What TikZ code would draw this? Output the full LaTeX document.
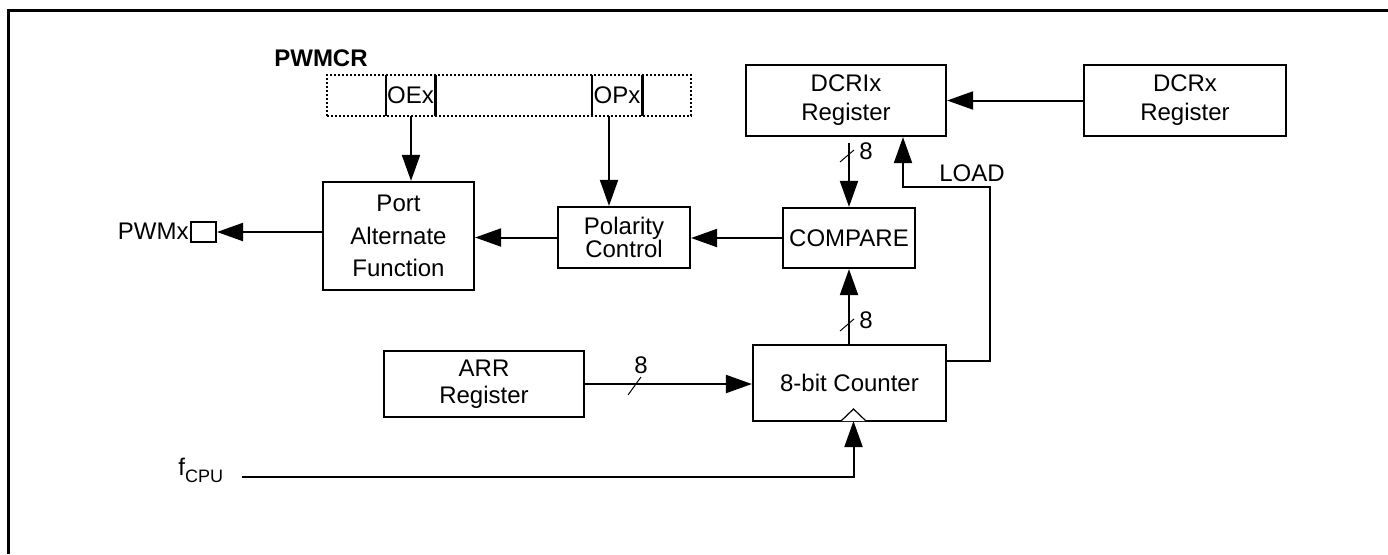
\documentclass[tikz,border=0pt]{standalone}
\usepackage{fontspec}
\setmainfont{Liberation Sans}
\usetikzlibrary{arrows.meta}
\begin{document}
\begin{tikzpicture}[x=0.5pt,y=-0.5pt,
  txt/.style={font=\fontsize{12}{14.4}\selectfont, inner sep=0pt},
  blk/.style={txt, draw, line width=1.1pt, align=center},
  conn/.style={line width=1pt},
  arr/.style={conn, -{Triangle[length=13pt,width=9pt]}},
  slash/.style={line width=0.5pt},
  divider/.style={line width=1.1pt}]
\useasboundingbox (0,0) rectangle (1388,554);
% frame
\draw[line width=1.5pt] (8,554) -- (8,10) -- (1388,10);
% blocks
\node[blk, minimum width=75.5pt, minimum height=54pt] (port) at (398.5,236) {Port\\[2pt]Alternate\\[2pt]Function};
\node[blk, minimum width=66pt, minimum height=30.5pt] (pol) at (624,237.5) {Polarity\\[-3pt]Control};
\node[blk, minimum width=66pt, minimum height=30pt] (cmp) at (849,238) {COMPARE};
\node[blk, minimum width=100pt, minimum height=35.5pt] (dcri) at (846,100.5) {DCRIx\\Register};
\node[blk, minimum width=101pt, minimum height=35.5pt] (dcr) at (1185,100.5) {DCRx\\Register};
\node[blk, minimum width=96.5pt, minimum height=38pt] (cnt) at (849.5,383) {8-bit Counter};
\node[blk, minimum width=100pt, minimum height=33pt] (arrreg) at (484,384) {ARR\\[-1pt]Register};
\node[draw, line width=1pt, minimum width=12.5pt, minimum height=10pt, inner sep=0pt] (pad) at (203.5,232) {};
\node[txt, anchor=east] (pwmx) at (189,231) {PWMx};
% PWMCR register
\node[txt, font=\fontsize{12}{14.4}\selectfont\bfseries] (pwmcr) at (321,58) {PWMCR};
\node[draw, dash pattern=on 1.2pt off 0.8pt, line width=0.9pt, minimum width=182pt, minimum height=20.5pt, inner sep=0pt] (reg) at (509,95.5) {};
\node[txt, minimum width=24.5pt, minimum height=20.5pt] (oe) at (410.5,95.5) {OEx};
\node[txt, minimum width=25pt, minimum height=20.5pt] (op) at (617,95.5) {OPx};
\draw[divider] (oe.north west) -- (oe.south west) (oe.north east) -- (oe.south east);
\draw[divider] (op.north west) -- (op.south west) (op.north east) -- (op.south east);
% connectors
\coordinate (oex) at (411,116);
\coordinate (opx) at (609,116);
\draw[arr] (oex) -- (oex |- port.north);
\draw[arr] (opx) -- (opx |- pol.north);
\draw[arr] (pad.east -| port.west) -- (pad.east);
\draw[arr] (pol.west) -- (pol.west -| port.east);
\draw[arr] (cmp.west) -- (cmp.west -| pol.east);
\draw[arr] (dcr.west) -- (dcri.east);
\draw[arr] ([yshift=-3pt]dcri.south -| cmp.north) -- (cmp.north);
\draw[arr] (cnt.north -| cmp.south) -- (cmp.south);
\draw[arr] (arrreg.east) -- (arrreg.east -| cnt.west);
\coordinate (lr) at (990,187);
\coordinate (lx) at (903,0);
\draw[arr] ([yshift=11pt]cnt.east) -| (lr) -| (lx |- dcri.south);
\node[txt] (load) at (972,173) {LOAD};
% bus slashes and widths
\draw[slash] (840,162) -- (854,150);
\node[txt] (w1) at (866,151) {8};
\draw[slash] (840,331) -- (854,319);
\node[txt] (w2) at (866,320) {8};
\draw[slash] (628,395) -- (641,377);
\node[txt] (w3) at (641,365) {8};
% clock
\draw[line width=0.6pt, fill=white] (841,421) -- (853.5,409) -- (866,421);
\coordinate (clk) at (853.5,421);
\node[txt, anchor=base west] (fcpu) at (178,475) {f\raisebox{-3.5pt}{\fontsize{9}{10}\selectfont CPU}};
\coordinate (fs) at (242,477);
\draw[arr] (fs) -| (clk);
\end{tikzpicture}
\end{document}
